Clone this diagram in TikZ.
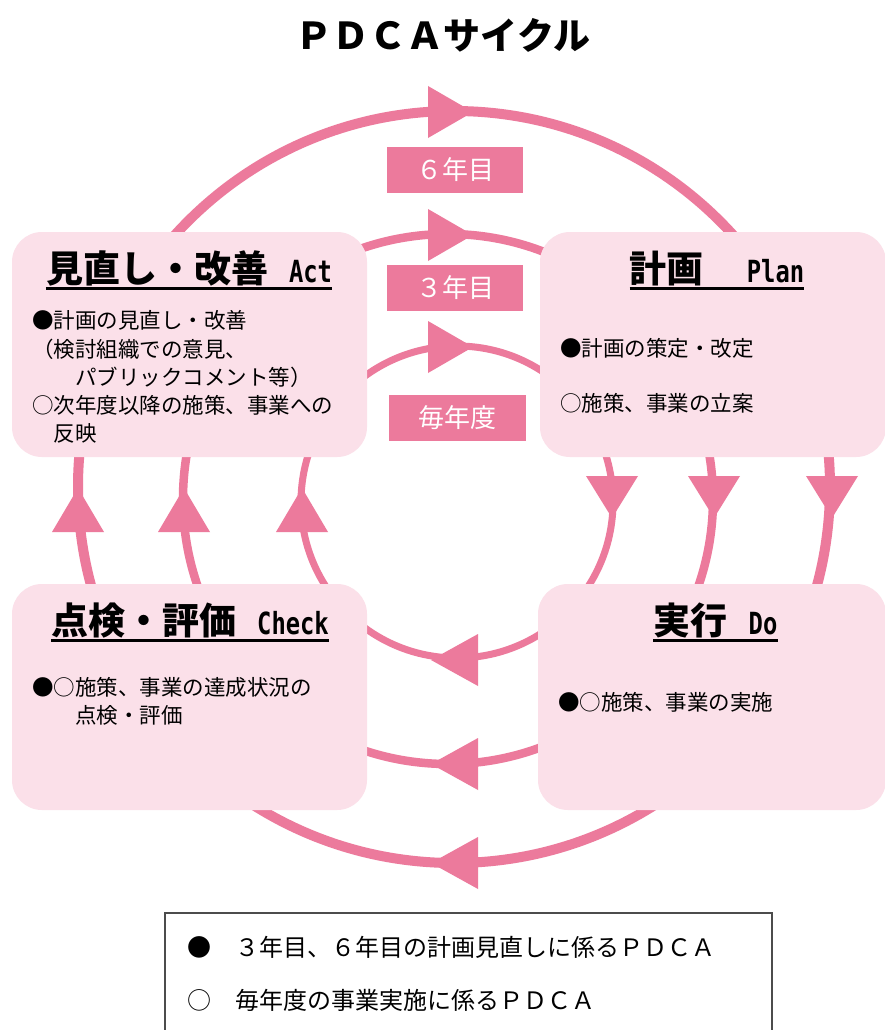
\documentclass[tikz,border=0pt]{standalone}
\usepackage{fontspec}
\setmainfont{Noto Sans CJK JP}
\newfontfamily\lat[FakeStretch=0.78]{DejaVu Sans Mono}
\definecolor{pk}{RGB}{236,122,156}
\definecolor{pkfill}{RGB}{251,224,233}
\newcommand\hdrlat[1]{{\lat\fontsize{30.5}{30.5}\selectfont #1}}
\begin{document}
\begin{tikzpicture}[x=1pt,y=-1pt,
  box/.style={fill=pkfill, rounded corners=30pt, inner sep=0pt, draw=none},
  lbl/.style={fill=pk, text=white, inner sep=0pt, font=\fontsize{26}{26}\selectfont},
  hdr/.style={anchor=base, inner sep=0pt, font=\bfseries\fontsize{37}{37}\selectfont},
  uline/.style={line width=3pt},
  body/.style={anchor=base west, inner sep=0pt, font=\fontsize{21.5}{24}\selectfont},
  leg/.style={anchor=base west, inner sep=0pt, font=\fontsize{24}{26}\selectfont},
  tip/.style={fill=pk}]
\useasboundingbox (0,0) rectangle (884,1030);
\fill[white] (0,0) rectangle (884,1030);
% rings
\draw[draw=pk, line width=10pt] (454,487) circle[radius=376];
\draw[draw=pk, line width=8.5pt] (448,499) circle[radius=265];
\draw[draw=pk, line width=7pt] (457,502) circle[radius=156];
% top arrowheads (right)
\fill[tip] (428,86) -- (473,112) -- (428,138) -- cycle;
\fill[tip] (428,209) -- (473,235) -- (428,261) -- cycle;
\fill[tip] (428,321) -- (473,347) -- (428,373) -- cycle;
% right arrowheads (down)
\fill[tip] (806,476) -- (832,518) -- (858,476) -- cycle;
\fill[tip] (688,476) -- (714,518) -- (740,476) -- cycle;
\fill[tip] (586,476) -- (612,518) -- (638,476) -- cycle;
% left arrowheads (up)
\fill[tip] (52,532) -- (78,488) -- (104,532) -- cycle;
\fill[tip] (158,532) -- (184,488) -- (210,532) -- cycle;
\fill[tip] (276,532) -- (302,488) -- (328,532) -- cycle;
% bottom arrowheads (left)
\fill[tip] (478,634) -- (431,660) -- (478,686) -- cycle;
\fill[tip] (478,738) -- (431,764) -- (478,790) -- cycle;
\fill[tip] (478,837) -- (431,863) -- (478,889) -- cycle;
% period labels
\node[lbl, minimum width=136pt, minimum height=46pt] (y6) at (455,170) {６年目};
\node[lbl, minimum width=136pt, minimum height=46pt] (y3) at (455,288) {３年目};
\node[lbl, minimum width=137pt, minimum height=46pt] (yy) at (457.5,418) {毎年度};
% boxes
\node[box, minimum width=355pt, minimum height=225pt] (act) at (189.5,344.5) {};
\node[box, minimum width=346pt, minimum height=225pt] (plan) at (713,344.5) {};
\node[box, minimum width=355pt, minimum height=226pt] (check) at (189.5,697) {};
\node[box, minimum width=348pt, minimum height=226pt] (do) at (712,697) {};
% title
\node[anchor=base, inner sep=0pt, font=\bfseries\fontsize{37}{37}\selectfont] (title) at (443,50) {ＰＤＣＡサイクル};
% headers
\node[hdr] (acth) at (189,282) {見直し・改善\hspace{21pt}\hdrlat{Act}};
\node[hdr] (planh) at (717,282) {計画\hspace{43pt}\hdrlat{Plan}};
\node[hdr] (checkh) at (190,634) {点検・評価\hspace{21pt}\hdrlat{Check}};
\node[hdr] (doh) at (715.5,634) {実行\hspace{21pt}\hdrlat{Do}};
\foreach \h in {acth,planh,checkh,doh}
  \draw[uline] ([yshift=-6pt]\h.base west) -- ([yshift=-6pt]\h.base east);
% body texts
\node[body] (a1) at (32,328) {●計画の見直し・改善};
\node[body] (a2) at (32,357) {（検討組織での意見、};
\node[body] (a3) at (32,385) {　　パブリックコメント等）};
\node[body] (a4) at (32,413) {○次年度以降の施策、事業への};
\node[body] (a5) at (32,441) {　反映};
\node[body] (p1) at (560,356) {●計画の策定・改定};
\node[body] (p2) at (560,411) {○施策、事業の立案};
\node[body] (c1) at (32,695) {●○施策、事業の達成状況の};
\node[body] (c2) at (32,723) {　　点検・評価};
\node[body] (d1) at (558,710) {●○施策、事業の実施};
% legend
\draw[draw=black!70, line width=1.2pt] (165,913) rectangle (772,1045);
\node[leg] (l1) at (187,956) {●　３年目、６年目の計画見直しに係るＰＤＣＡ};
\node[leg] (l2) at (187,1009) {○　毎年度の事業実施に係るＰＤＣＡ};
\end{tikzpicture}
\end{document}
